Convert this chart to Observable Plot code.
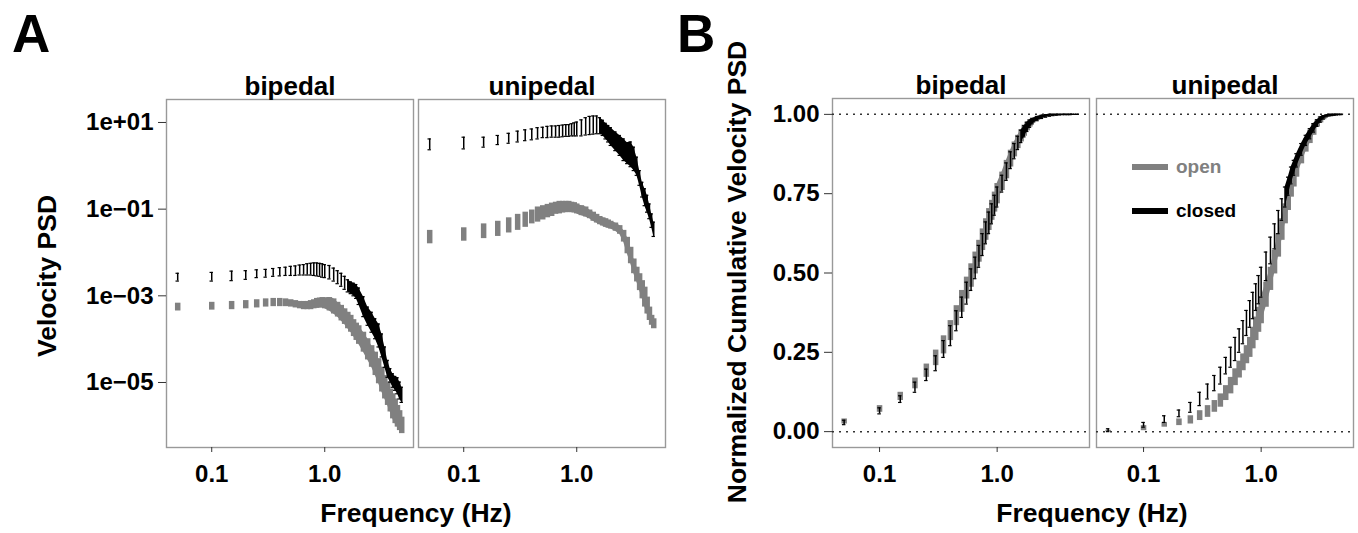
<!DOCTYPE html>
<html><head><meta charset="utf-8">
<script src="https://cdn.jsdelivr.net/npm/d3@7"></script>
<script src="https://cdn.jsdelivr.net/npm/@observablehq/plot@0.6"></script>
<style>
body{margin:0;background:#fff;}
#root{position:relative;width:1358px;height:533px;overflow:hidden;background:#fff;}
#root > svg{position:absolute;top:0;}
</style></head><body><div id="root"></div>
<script>
// ---------- data ----------
const freqHz = [0.05,0.1,0.15,0.2,0.25,0.3,0.35,0.4,0.45,0.5,0.55,0.6,0.65,0.7,0.75,0.8,0.85,0.9,0.95,1.0,
  1.1,1.2,1.3,1.4,1.5,1.6,1.7,1.8,1.9,2.0,2.2,2.4,2.6,2.8,3.0,3.2,3.4,3.6,3.8,4.0,4.2,4.4,4.6,4.8];
const stances = ["bipedal","unipedal"];
const conditions = ["open","closed"];
const conditionColors = ["#808080","#000000"];

// Panel A: log10 of velocity PSD, upper (Hi) and lower (Lo) ends of each bar
const aBipOpenHi = [-3.17,-3.15,-3.13,-3.11,-3.09,-3.07,-3.06,-3.06,-3.07,-3.09,-3.11,-3.13,-3.13,-3.13,-3.11,-3.09,-3.06,-3.05,-3.04,-3.05,
  -3.04,-3.07,-3.15,-3.22,-3.30,-3.38,-3.45,-3.55,-3.63,-3.69,-3.84,-3.99,-4.15,-4.30,-4.45,-4.65,-4.84,-4.99,-5.15,-5.26,-5.38,-5.53,-5.65,-5.80];
const aBipOpenLo = [-3.35,-3.33,-3.32,-3.30,-3.28,-3.26,-3.25,-3.25,-3.25,-3.26,-3.28,-3.30,-3.32,-3.32,-3.32,-3.30,-3.29,-3.28,-3.28,-3.30,
  -3.35,-3.42,-3.49,-3.58,-3.66,-3.76,-3.84,-3.94,-4.03,-4.12,-4.30,-4.48,-4.65,-4.84,-5.03,-5.22,-5.38,-5.53,-5.68,-5.84,-5.95,-6.03,-6.11,-6.18];
const aBipClosedHi = [-2.48,-2.46,-2.43,-2.42,-2.40,-2.39,-2.37,-2.35,-2.34,-2.32,-2.31,-2.29,-2.28,-2.26,-2.25,-2.24,-2.24,-2.25,-2.26,-2.28,
  -2.30,-2.36,-2.42,-2.48,-2.55,-2.63,-2.68,-2.71,-2.74,-2.82,-3.02,-3.26,-3.38,-3.53,-3.65,-3.88,-4.18,-4.49,-4.68,-4.80,-4.86,-4.89,-4.99,-5.11];
const aBipClosedLo = [-2.66,-2.66,-2.65,-2.62,-2.58,-2.57,-2.55,-2.54,-2.53,-2.53,-2.53,-2.52,-2.52,-2.52,-2.52,-2.53,-2.54,-2.55,-2.57,-2.58,
  -2.61,-2.66,-2.72,-2.78,-2.85,-2.91,-2.95,-3.00,-3.06,-3.20,-3.48,-3.68,-3.84,-3.99,-4.18,-4.41,-4.65,-4.88,-4.99,-5.11,-5.18,-5.26,-5.38,-5.46];
const aUniOpenHi = [-1.49,-1.43,-1.34,-1.28,-1.20,-1.12,-1.07,-1.02,-0.95,-0.92,-0.89,-0.86,-0.84,-0.82,-0.82,-0.82,-0.82,-0.84,-0.85,-0.88,
  -0.92,-0.95,-1.02,-1.07,-1.12,-1.17,-1.20,-1.22,-1.25,-1.28,-1.32,-1.38,-1.49,-1.65,-1.88,-2.15,-2.34,-2.49,-2.65,-2.80,-3.03,-3.26,-3.45,-3.53];
const aUniOpenLo = [-1.80,-1.74,-1.68,-1.63,-1.55,-1.49,-1.42,-1.34,-1.30,-1.25,-1.20,-1.17,-1.12,-1.11,-1.09,-1.08,-1.08,-1.08,-1.09,-1.11,
  -1.15,-1.18,-1.22,-1.28,-1.32,-1.36,-1.39,-1.42,-1.44,-1.46,-1.51,-1.58,-1.76,-2.03,-2.26,-2.49,-2.68,-2.88,-3.07,-3.26,-3.42,-3.57,-3.68,-3.76];
const aUniClosedHi = [0.62,0.66,0.66,0.70,0.75,0.80,0.83,0.85,0.88,0.89,0.91,0.92,0.92,0.93,0.94,0.95,0.95,0.97,0.99,1.01,
  1.06,1.11,1.14,1.15,1.15,1.11,1.05,0.98,0.93,0.88,0.78,0.70,0.62,0.53,0.55,0.43,0.20,-0.11,-0.38,-0.53,-0.68,-0.88,-1.11,-1.30];
const aUniClosedLo = [0.37,0.39,0.43,0.49,0.52,0.55,0.58,0.60,0.62,0.65,0.65,0.66,0.66,0.66,0.67,0.68,0.68,0.69,0.69,0.69,
  0.69,0.71,0.72,0.73,0.74,0.74,0.70,0.62,0.55,0.47,0.35,0.24,0.12,0.05,-0.02,-0.11,-0.22,-0.45,-0.72,-0.92,-1.07,-1.22,-1.42,-1.63];

// Panel B: normalized cumulative velocity PSD
const bBipOpenHi = [0.040,0.082,0.124,0.169,0.213,0.257,0.302,0.350,0.397,0.445,0.487,0.529,0.566,0.603,0.639,0.671,0.703,0.729,0.755,0.782,
  0.818,0.855,0.887,0.913,0.934,0.952,0.966,0.976,0.983,0.988,0.994,0.997,0.999,1.000,1.000,1.000,1.000,1.000,1.000,1.000,1.000,1.000,1.000,1.000];
const bBipOpenLo = [0.024,0.061,0.098,0.135,0.171,0.208,0.245,0.287,0.334,0.376,0.418,0.455,0.497,0.534,0.571,0.603,0.634,0.666,0.692,0.718,
  0.760,0.797,0.834,0.866,0.892,0.913,0.931,0.948,0.960,0.971,0.981,0.988,0.992,0.994,0.996,0.997,0.998,0.999,0.999,0.999,0.999,1.000,1.000,1.000];
const bBipClosedHi = [0.036,0.075,0.113,0.156,0.197,0.239,0.287,0.334,0.381,0.424,0.471,0.513,0.550,0.587,0.624,0.661,0.692,0.718,0.745,0.771,
  0.808,0.847,0.882,0.908,0.931,0.950,0.964,0.975,0.982,0.987,0.993,0.997,0.999,1.000,1.000,1.000,1.000,1.000,1.000,1.000,1.000,1.000,1.000,1.000];
const bBipClosedLo = [0.022,0.056,0.092,0.124,0.161,0.192,0.234,0.271,0.318,0.360,0.402,0.445,0.482,0.518,0.555,0.592,0.624,0.655,0.682,0.708,
  0.755,0.792,0.829,0.860,0.889,0.911,0.929,0.946,0.959,0.970,0.980,0.987,0.991,0.994,0.996,0.997,0.998,0.999,0.999,0.999,0.999,1.000,1.000,1.000];
const bUniOpenHi = [0.004,0.019,0.029,0.040,0.050,0.066,0.082,0.098,0.119,0.145,0.171,0.198,0.222,0.245,0.271,0.297,0.329,0.361,0.392,0.424,
  0.471,0.518,0.571,0.624,0.671,0.718,0.760,0.792,0.823,0.855,0.892,0.923,0.950,0.971,0.983,0.992,0.996,0.998,0.999,1.000,1.000,1.000,1.000,1.000];
const bUniOpenLo = [0.000,0.003,0.014,0.019,0.024,0.035,0.045,0.061,0.077,0.098,0.119,0.145,0.169,0.192,0.214,0.234,0.261,0.287,0.313,0.340,
  0.392,0.445,0.497,0.550,0.603,0.655,0.697,0.739,0.771,0.802,0.844,0.881,0.908,0.934,0.960,0.973,0.983,0.990,0.993,0.995,0.996,0.997,0.998,0.999];
const bUniClosedHi = [0.009,0.029,0.050,0.068,0.092,0.124,0.150,0.177,0.203,0.234,0.266,0.297,0.324,0.350,0.382,0.413,0.439,0.466,0.492,0.518,
  0.566,0.613,0.655,0.697,0.734,0.771,0.802,0.834,0.855,0.876,0.908,0.934,0.955,0.971,0.983,0.992,0.996,0.998,1.000,1.000,1.000,1.000,1.000,1.000];
const bUniClosedLo = [0.000,0.014,0.029,0.047,0.061,0.082,0.103,0.129,0.150,0.182,0.203,0.224,0.250,0.277,0.303,0.329,0.356,0.382,0.403,0.424,
  0.476,0.529,0.576,0.624,0.666,0.708,0.745,0.781,0.808,0.834,0.871,0.902,0.923,0.944,0.962,0.975,0.985,0.992,0.995,0.996,0.997,0.998,0.999,0.999];

const xTickValues = [0.1, 1];
const xTickLabels = ["0.1", "1.0"];
const aYTickValues = [10, 0.1, 0.001, 0.00001];
const aYTickLabels = ["1e+01", "1e\u221201", "1e\u221203", "1e\u221205"];
const bYTickValues = [0, 0.25, 0.5, 0.75, 1];
const bYTickLabels = ["0.00", "0.25", "0.50", "0.75", "1.00"];

// ---------- build tables ----------
function rows(stance, condition, lo, hi, isLog) {
  return freqHz.map((f, i) => ({f, stance, condition,
    lo: isLog ? Math.pow(10, lo[i]) : lo[i],
    hi: isLog ? Math.pow(10, hi[i]) : hi[i]}));
}
const aOpen = [...rows("bipedal","open",aBipOpenLo,aBipOpenHi,true), ...rows("unipedal","open",aUniOpenLo,aUniOpenHi,true)];
const aClosed = [...rows("bipedal","closed",aBipClosedLo,aBipClosedHi,true), ...rows("unipedal","closed",aUniClosedLo,aUniClosedHi,true)];
const bOpen = [...rows("bipedal","open",bBipOpenLo,bBipOpenHi,false), ...rows("unipedal","open",bUniOpenLo,bUniOpenHi,false)];
const bClosed = [...rows("bipedal","closed",bBipClosedLo,bBipClosedHi,false), ...rows("unipedal","closed",bUniClosedLo,bUniClosedHi,false)];

const FONT = '"Liberation Sans", Arial, Helvetica, sans-serif';

function seriesMarks(data, color, width, areaFrom, caps) {
  const m = [
    Plot.areaY(data.filter(d => d.f >= areaFrom), {x: "f", y1: "lo", y2: "hi", fx: "stance", fill: color}),
    Plot.ruleX(data, {x: "f", y1: "lo", y2: "hi", fx: "stance", stroke: color, strokeWidth: width})
  ];
  if (caps) {
    const capRows = data.flatMap(d => [{...d, v: d.lo}, {...d, v: d.hi}]);
    m.push(Plot.ruleY(capRows, {y: "v", x1: d => d.f / 1.035, x2: d => d.f * 1.035, fx: "stance", stroke: color, strokeWidth: 1.2}));
  }
  return m;
}

function axes(yVals, yLabels) {
  return [
    Plot.axisX({ticks: xTickValues, tickFormat: d => xTickLabels[xTickValues.indexOf(d)], tickSize: 5, tickPadding: 12,
      fontSize: 24, fontWeight: "bold", stroke: "#333", fill: "#000", label: null}),
    Plot.axisY({ticks: yVals, tickFormat: d => yLabels[yVals.indexOf(d)], tickSize: 8, tickPadding: 5,
      fontSize: 24, fontWeight: "bold", stroke: "#333", fill: "#000", label: null}),
    Plot.axisFx({anchor: "top", tickSize: 0, tickPadding: 5, fontSize: 26, fontWeight: "bold", fill: "#000", label: null})
  ];
}

const plotA = Plot.plot({
  width: 680, height: 533,
  marginLeft: 166, marginRight: 15, marginTop: 99, marginBottom: 86,
  style: {fontFamily: FONT, fontSize: "24px", background: "transparent", overflow: "visible"},
  fx: {domain: stances, paddingInner: 0.02, paddingOuter: 0, label: null},
  x: {type: "log", domain: [0.0398, 6.1], label: null},
  y: {type: "log", domain: [Math.pow(10, -6.5), Math.pow(10, 1.53)], label: null},
  marks: [
    Plot.frame({stroke: "#999", strokeWidth: 1.4}),
    ...seriesMarks(aOpen, conditionColors[0], 5.5, 1.0, false),
    ...seriesMarks(aClosed, conditionColors[1], 1.5, 1.6, true),
    ...axes(aYTickValues, aYTickLabels)
  ]
});
plotA.style.left = "0px";

const plotB = Plot.plot({
  width: 678, height: 533,
  marginLeft: 152, marginRight: 4, marginTop: 98, marginBottom: 86,
  style: {fontFamily: FONT, fontSize: "24px", background: "transparent", overflow: "visible"},
  fx: {domain: stances, paddingInner: 0.0265, paddingOuter: 0, label: null},
  x: {type: "log", domain: [0.0398, 6.1], label: null},
  y: {domain: [-0.05, 1.05], label: null},
  marks: [
    Plot.frame({stroke: "#999", strokeWidth: 1.4}),
    Plot.ruleY([0, 1], {stroke: "#333", strokeWidth: 1.5, strokeDasharray: "2,5"}),
    ...seriesMarks(bOpen, conditionColors[0], 5.5, 1.0, false),
    ...seriesMarks(bClosed, conditionColors[1], 1.5, 1.6, true),
    ...axes(bYTickValues, bYTickLabels)
  ]
});
plotB.style.left = "680px";

const root = document.getElementById("root");
root.appendChild(plotA);
root.appendChild(plotB);

// ---------- titles, axis titles and legend ----------
const NS = "http://www.w3.org/2000/svg";
const over = document.createElementNS(NS, "svg");
over.setAttribute("width", 1358); over.setAttribute("height", 533);
over.style.left = "0px"; over.style.pointerEvents = "none";
root.appendChild(over);
function txt(s, attrs, size, color) {
  const t = document.createElementNS(NS, "text");
  t.textContent = s;
  t.setAttribute("font-family", FONT);
  t.setAttribute("font-weight", "bold");
  t.setAttribute("font-size", size);
  t.setAttribute("fill", color || "#000");
  for (const k in attrs) t.setAttribute(k, attrs[k]);
  over.appendChild(t);
}
function rect(x, y, w, h, color) {
  const r = document.createElementNS(NS, "rect");
  r.setAttribute("x", x); r.setAttribute("y", y); r.setAttribute("width", w); r.setAttribute("height", h);
  r.setAttribute("fill", color);
  over.appendChild(r);
}
txt("A", {x: 12, y: 52}, 53);
txt("B", {x: 677, y: 52}, 53);
txt("Velocity PSD", {"text-anchor": "middle", transform: "translate(56,276) rotate(-90)"}, 26.5);
txt("Normalized Cumulative Velocity PSD", {"text-anchor": "middle", transform: "translate(746,272) rotate(-90)"}, 26.5);
txt("Frequency (Hz)", {x: 416, y: 522, "text-anchor": "middle"}, 26.5);
txt("Frequency (Hz)", {x: 1092, y: 522, "text-anchor": "middle"}, 26.5);
// legend (panel B, unipedal)
rect(1132, 164, 36, 6, conditionColors[0]);
txt(conditions[0], {x: 1176, y: 173}, 19, conditionColors[0]);
rect(1132, 208, 36, 6, conditionColors[1]);
txt(conditions[1], {x: 1176, y: 217}, 19, conditionColors[1]);
</script>
</body></html>
